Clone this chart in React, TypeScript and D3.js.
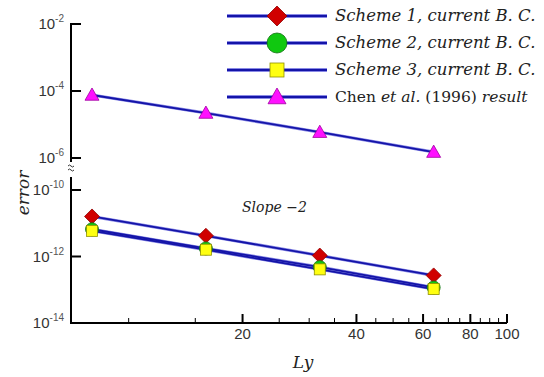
import { scaleLog, line } from "d3";

const width = 544;
const height = 377;

// Ly values (log x axis)
const lyValues = [8, 16, 32, 64];
// errors
const scheme1 = [1.6e-11, 4.2e-12, 1.07e-12, 2.7e-13];
const scheme2 = [6.6e-12, 1.75e-12, 4.8e-13, 1.17e-13];
const scheme3 = [5.9e-12, 1.6e-12, 4.1e-13, 1.05e-13];
const chen = [7.6e-5, 2.2e-5, 5.9e-6, 1.5e-6];

const xMajor = [20, 40, 60, 80, 100];
const xMinor = [10, 15, 25, 30, 35, 45, 50, 55, 65, 70, 75, 85, 90, 95];
const topExps = [-2, -4, -6];
const botExps = [-10, -12, -14];

const legendLabels = ["Scheme 1", "Scheme 2", "Scheme 3"];

const xScale = scaleLog().domain([7.04, 100]).range([71, 507]);
const yTop = scaleLog().domain([1e-6, 1e-2]).range([158, 24]);
const yBot = scaleLog().domain([1e-14, 1e-10]).range([323, 190]);

const blue = "#1414a8";
const halo = "#8a8ae6";
const serif = "'DejaVu Serif', serif";
const sans = "'Liberation Sans', Arial, sans-serif";

type Marker = "diamond" | "circle" | "square" | "triangle";

function Mark({ kind, x, y, s }: { kind: Marker; x: number; y: number; s: number }) {
  if (kind === "diamond") {
    return (
      <path
        d={`M${x},${y - s}L${x + s},${y}L${x},${y + s}L${x - s},${y}Z`}
        fill="#d00000"
        stroke="#900000"
        strokeWidth={0.8}
      />
    );
  }
  if (kind === "circle") {
    return <circle cx={x} cy={y} r={s} fill="#10c810" stroke="#107010" strokeWidth={0.8} />;
  }
  if (kind === "square") {
    return (
      <rect x={x - s} y={y - s} width={2 * s} height={2 * s} fill="#ffff10" stroke="#909000" strokeWidth={0.8} />
    );
  }
  return (
    <path
      d={`M${x},${y - s}L${x + s},${y + s * 0.75}L${x - s},${y + s * 0.75}Z`}
      fill="#ff10ff"
      stroke="#a000a0"
      strokeWidth={0.8}
    />
  );
}

export default function App() {
  const lineBot = line<number>()
    .x((_, i) => xScale(lyValues[i]))
    .y((d) => yBot(d));
  const lineTop = line<number>()
    .x((_, i) => xScale(lyValues[i]))
    .y((d) => yTop(d));

  const series: { data: number[]; kind: Marker; s: number; ls: number; top: boolean }[] = [
    { data: chen, kind: "triangle", s: 7, ls: 9, top: true },
    { data: scheme1, kind: "diamond", s: 7.5, ls: 10, top: false },
    { data: scheme2, kind: "circle", s: 6.5, ls: 10, top: false },
    { data: scheme3, kind: "square", s: 5.5, ls: 7, top: false },
  ];

  const axisY = 323;
  const axisX = 71;

  const yLabel = (e: number, y: number, key: string) => (
    <g key={key}>
      <line x1={axisX} x2={axisX + 10} y1={y} y2={y} stroke="#000" strokeWidth={2} />
      <text x={64} y={y + 5} textAnchor="end" fontFamily={sans} fill="#333">
        <tspan fontSize={15}>10</tspan>
        <tspan fontSize={10} dy={-7} fill="#555">{e}</tspan>
      </text>
    </g>
  );

  return (
    <svg
      width={width}
      height={height}
      style={{ position: "absolute", left: 0, top: 0, background: "#fff" }}
    >
      {/* y axis, broken */}
      <line x1={axisX} x2={axisX} y1={23} y2={162} stroke="#000" strokeWidth={2} />
      <line x1={axisX} x2={axisX} y1={177} y2={axisY + 1} stroke="#000" strokeWidth={2} />
      <path
        d={`M${axisX - 3},${166} q1.5,-2 3,0 t3,0 M${axisX - 3},${170} q1.5,-2 3,0 t3,0`}
        fill="none"
        stroke="#333"
        strokeWidth={1}
      />
      {topExps.map((e) => yLabel(e, yTop(Math.pow(10, e)), `t${e}`))}
      {botExps.map((e) => yLabel(e, yBot(Math.pow(10, e)), `b${e}`))}

      {/* x axis */}
      <line x1={axisX - 1} x2={xScale(100)} y1={axisY} y2={axisY} stroke="#000" strokeWidth={2} />
      {xMinor.map((v) => (
        <line key={v} x1={xScale(v)} x2={xScale(v)} y1={axisY} y2={axisY - 5} stroke="#000" strokeWidth={1} />
      ))}
      {xMajor.map((v) => (
        <g key={v}>
          <line x1={xScale(v)} x2={xScale(v)} y1={axisY} y2={axisY - 9} stroke="#000" strokeWidth={2} />
          <text x={xScale(v)} y={339} textAnchor="middle" fontFamily={sans} fontSize={15} fill="#333">
            {v}
          </text>
        </g>
      ))}

      {/* lines */}
      {series.map((s, i) => (
        <path
          key={`h${i}`}
          d={(s.top ? lineTop : lineBot)(s.data) as string}
          fill="none"
          stroke={halo}
          strokeWidth={3}
        />
      ))}
      {series.map((s, i) => (
        <path
          key={i}
          d={(s.top ? lineTop : lineBot)(s.data) as string}
          fill="none"
          stroke={blue}
          strokeWidth={1.8}
        />
      ))}
      {series.map((s, i) =>
        s.data.map((d, j) => (
          <Mark
            key={`${i}-${j}`}
            kind={s.kind}
            x={xScale(lyValues[j])}
            y={s.top ? yTop(d) : yBot(d)}
            s={s.s}
          />
        ))
      )}

      {/* labels */}
      <text x={242} y={212} fontFamily={serif} fontStyle="italic" fontSize={14} fill="#222">
        Slope −2
      </text>
      <text
        transform="translate(29,193) rotate(-90)"
        textAnchor="middle"
        fontFamily={serif}
        fontStyle="italic"
        fontSize={17}
        fill="#222"
      >
        error
      </text>
      <text x={303} y={368} textAnchor="middle" fontFamily={serif} fontStyle="italic" fontSize={17} fill="#222">
        Ly
      </text>

      {/* legend */}
      {series
        .slice(1)
        .concat(series.slice(0, 1))
        .map((s, i) => {
          const y = [16, 43, 70, 97][i];
          return (
            <g key={i}>
              <line x1={227} x2={327} y1={y} y2={y} stroke={halo} strokeWidth={4} />
              <line x1={227} x2={327} y1={y} y2={y} stroke={blue} strokeWidth={2.2} />
              <Mark kind={s.kind} x={277} y={y} s={s.ls} />
              {i < 3 ? (
                <text x={335} y={y + 5} fontFamily={serif} fontStyle="italic" fontSize={16.5} fill="#222">
                  {legendLabels[i]}, current B. C.
                </text>
              ) : (
                <text x={335} y={y + 5} fontFamily={serif} fontSize={15.5} fill="#222">
                  Chen <tspan fontStyle="italic">et al.</tspan> (1996) <tspan fontStyle="italic">result</tspan>
                </text>
              )}
            </g>
          );
        })}
    </svg>
  );
}
